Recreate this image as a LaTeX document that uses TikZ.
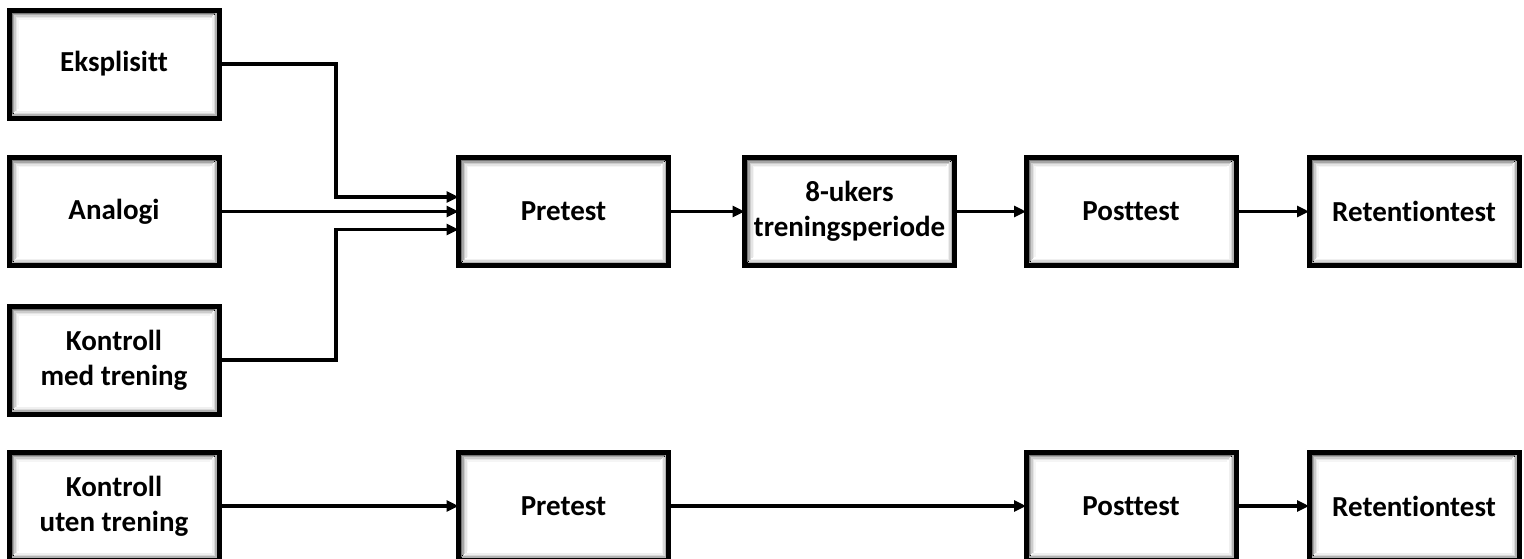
\documentclass[tikz,border=0pt]{standalone}
\usepackage{fontspec}
\setmainfont{Carlito}[Ligatures={NoCommon}]
\usetikzlibrary{arrows.meta}

\tikzset{
  stepbox/.style={draw=black, line width=5pt, fill=white, minimum width=205pt,
    minimum height=103pt, inner sep=0pt, align=center,
    font=\bfseries\fontsize{29pt}{35pt}\selectfont},
  link/.style={line width=3.2pt, -{Triangle[length=12pt,width=11pt]}},
  plain/.style={line width=3.2pt},
}

% soft inner shadow along the edges of a box
\newcommand{\innershade}[1]{%
  \foreach \d/\c in {3.2/55,4.6/35,6/20,7.4/10,8.8/4}{%
    \draw[black!\c, line width=1.5pt]
      ([xshift=\d pt,yshift=\d pt]#1.south west) --
      ([xshift=\d pt,yshift=-\d pt]#1.north west) --
      ([xshift=-\d pt,yshift=-\d pt]#1.north east);
  }%
  \foreach \d/\c in {3.2/30,4.6/15,6/6}{%
    \draw[black!\c, line width=1.5pt]
      ([xshift=-\d pt,yshift=-\d pt]#1.north east) --
      ([xshift=-\d pt,yshift=\d pt]#1.south east) --
      ([xshift=\d pt,yshift=\d pt]#1.south west);
  }%
  \draw[line width=5pt] (#1.south west) rectangle (#1.north east);
}

\begin{document}
\begin{tikzpicture}[x=1pt,y=-1pt]
\useasboundingbox[fill=white] (0,0) rectangle (1524,558);

% group boxes
\node[stepbox] (eks) at (114,64)    {Eksplisitt};
\node[stepbox] (ana) at (114,211.5) {Analogi};
\node[stepbox] (kmed) at (114,360)  {Kontroll\\med trening};
\node[stepbox] (kuten) at (114,506) {Kontroll\\uten trening};

% trained groups
\node[stepbox] (pre1) at (563.5,211.5)  {Pretest};
\node[stepbox] (tren) at (849.5,211.5)  {8-ukers\\treningsperiode};
\node[stepbox] (post1) at (1131,211.5)  {Posttest};
\node[stepbox] (ret1) at (1414,211.5)   {Retentiontest};

% control group without training
\node[stepbox] (pre2) at (563.5,506)  {Pretest};
\node[stepbox] (post2) at (1131,506)  {Posttest};
\node[stepbox] (ret2) at (1414,506)   {Retentiontest};

\foreach \n in {eks,ana,kmed,kuten,pre1,tren,post1,ret1,pre2,post2,ret2}{\innershade{\n}}

% connectors
\coordinate (bend) at (336,0);
\draw[link] (eks.east) -| ([yshift=14.5pt]bend |- pre1.west) -- ([yshift=14.5pt]pre1.west);
\draw[link] (ana.east) -- (pre1.west);
\draw[link] (kmed.east) -| ([yshift=-18pt]bend |- pre1.west) -- ([yshift=-18pt]pre1.west);

\draw[link] (pre1.east) -- (tren.west);
\draw[link] (tren.east) -- (post1.west);
\draw[link] (post1.east) -- (ret1.west);

\draw[link] (kuten.east) -- (pre2.west);
\draw[link] (pre2.east) -- (post2.west);
\draw[link] (post2.east) -- (ret2.west);
\end{tikzpicture}
\end{document}
